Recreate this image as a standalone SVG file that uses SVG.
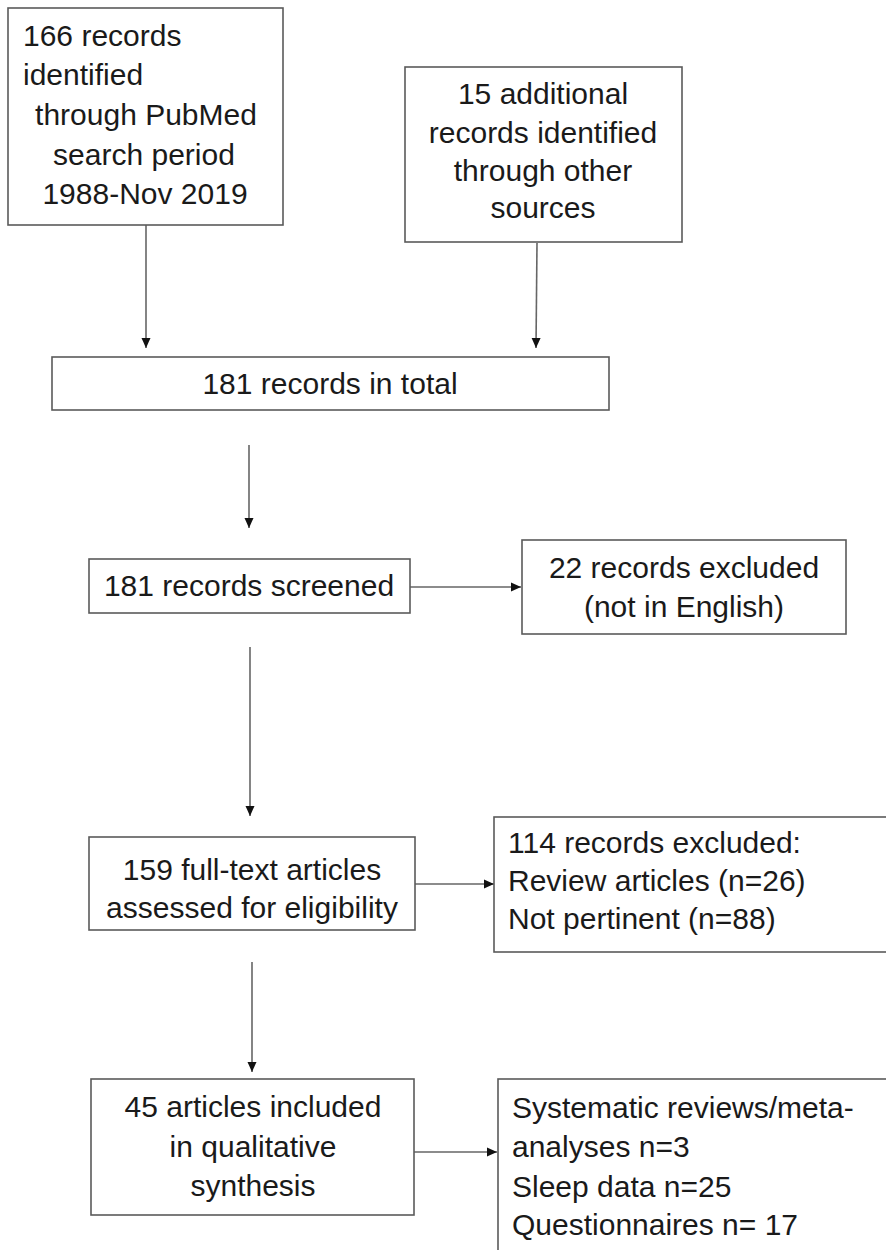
<svg xmlns="http://www.w3.org/2000/svg" width="886" height="1250" viewBox="0 0 886 1250">
<defs>
<style>
.box{fill:#fff;stroke:#5a5a5a;stroke-width:1.6}
.t{font-family:"Liberation Sans",Arial,sans-serif;font-size:30px;fill:#1a1a1a}
.c{text-anchor:middle}
.ln{stroke:#666;stroke-width:1.6;fill:none}
</style>
<marker id="ah" viewBox="0 0 10 10" refX="10" refY="5" markerWidth="10" markerHeight="10" markerUnits="userSpaceOnUse" orient="auto">
<path d="M0,0.5 L10,5 L0,9.5 z" fill="#111"/>
</marker>
</defs>
<rect width="886" height="1250" fill="#fff"/>
<g id="connectors">
<line class="ln" x1="146" y1="225" x2="146" y2="348" marker-end="url(#ah)"/>
<line class="ln" x1="537" y1="243" x2="536" y2="348" marker-end="url(#ah)"/>
<line class="ln" x1="249" y1="445" x2="249" y2="528" marker-end="url(#ah)"/>
<line class="ln" x1="410" y1="587" x2="521" y2="587" marker-end="url(#ah)"/>
<line class="ln" x1="250" y1="647" x2="250" y2="816" marker-end="url(#ah)"/>
<line class="ln" x1="415" y1="884" x2="494" y2="884" marker-end="url(#ah)"/>
<line class="ln" x1="252" y1="962" x2="252" y2="1072" marker-end="url(#ah)"/>
<line class="ln" x1="414" y1="1152" x2="497" y2="1152" marker-end="url(#ah)"/>
</g>
<g id="n1">
<rect class="box" x="8" y="8" width="275" height="217"/>
<text class="t" x="23" y="46">166 records</text>
<text class="t" x="23" y="85">identified</text>
<text class="t c" x="146" y="125">through PubMed</text>
<text class="t c" x="144" y="165">search period</text>
<text class="t c" x="145" y="204">1988-Nov 2019</text>
</g>
<g id="n2">
<rect class="box" x="405" y="67" width="277" height="175"/>
<text class="t c" x="543" y="104">15 additional</text>
<text class="t c" x="543" y="143">records identified</text>
<text class="t c" x="543" y="181">through other</text>
<text class="t c" x="543" y="218">sources</text>
</g>
<g id="n3">
<rect class="box" x="52" y="357" width="557" height="53"/>
<text class="t c" x="330" y="394">181 records in total</text>
</g>
<g id="n4">
<rect class="box" x="89" y="559" width="321" height="54"/>
<text class="t c" x="249" y="596">181 records screened</text>
</g>
<g id="n5">
<rect class="box" x="522" y="540" width="324" height="94"/>
<text class="t c" x="684" y="578">22 records excluded</text>
<text class="t c" x="684" y="617">(not in English)</text>
</g>
<g id="n6">
<rect class="box" x="89" y="837" width="326" height="93"/>
<text class="t c" x="252" y="880">159 full-text articles</text>
<text class="t c" x="252" y="918">assessed for eligibility</text>
</g>
<g id="n7">
<rect class="box" x="494" y="817" width="400" height="135"/>
<text class="t" x="508" y="853">114 records excluded:</text>
<text class="t" x="508" y="891">Review articles (n=26)</text>
<text class="t" x="508" y="929">Not pertinent (n=88)</text>
</g>
<g id="n8">
<rect class="box" x="91" y="1079" width="323" height="136"/>
<text class="t c" x="253" y="1117">45 articles included</text>
<text class="t c" x="253" y="1157">in qualitative</text>
<text class="t c" x="253" y="1196">synthesis</text>
</g>
<g id="n9">
<rect class="box" x="498" y="1079" width="400" height="200"/>
<text class="t" x="512" y="1118">Systematic reviews/meta-</text>
<text class="t" x="512" y="1157">analyses n=3</text>
<text class="t" x="512" y="1197">Sleep data n=25</text>
<text class="t" x="512" y="1235">Questionnaires n= 17</text>
</g>
</svg>
